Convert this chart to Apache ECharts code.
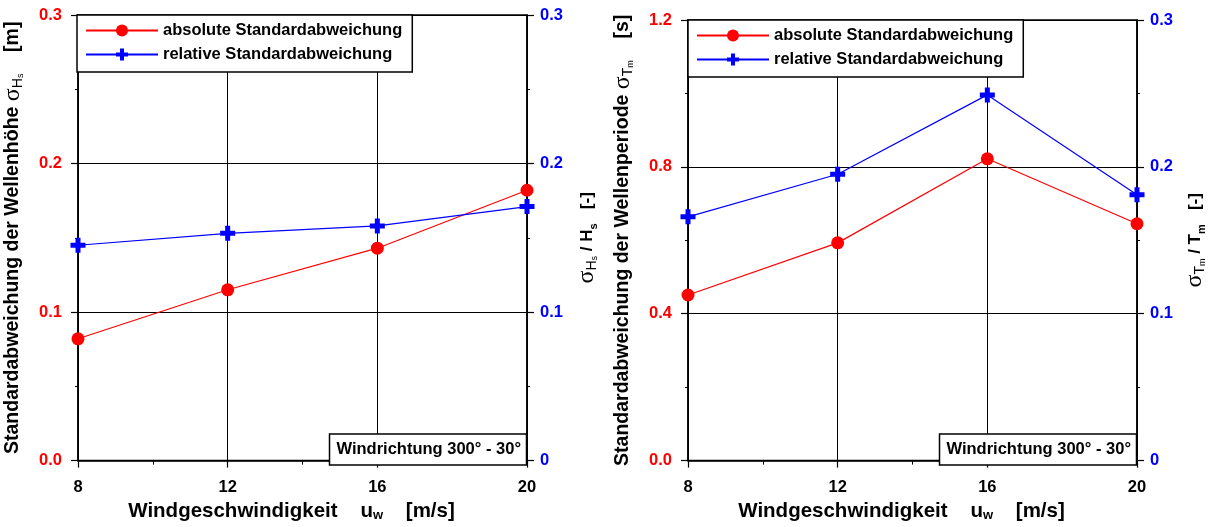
<!DOCTYPE html>
<html>
<head>
<meta charset="utf-8">
<script src="https://cdn.jsdelivr.net/npm/echarts@6/dist/echarts.min.js"></script>
<style>
html,body{margin:0;padding:0;background:#fff;}
#c{width:1208px;height:527px;}
</style>
</head>
<body>
<div id="c"></div>
<script>
// ---- data ----
const windSpeed = [8, 12, 16, 20];
const hsAbsolute = [0.082, 0.115, 0.143, 0.182];
const hsRelative = [0.145, 0.153, 0.158, 0.171];
const tmAbsolute = [0.451, 0.593, 0.822, 0.645];
const tmRelative = [0.166, 0.195, 0.249, 0.181];
const seriesNames = ['absolute Standardabweichung', 'relative Standardabweichung'];
const boxText = 'Windrichtung 300° - 30°';
const xTitle = 'Windgeschwindigkeit';

const FONT = '"Liberation Sans", Arial, sans-serif';
const RED = '#ff0000', BLUE = '#0000ff';
const pairs = (xs, ys) => xs.map((x, i) => [x, ys[i]]);
const PLUS = 'path://M3,0H6V3H9V6H6V9H3V6H0V3H3Z';

const chart = echarts.init(document.getElementById('c'), null, {renderer: 'canvas'});

const nameRich = {
  t: {fontSize: 19.5, fontWeight: 'bold', fontFamily: FONT, color: '#000', lineHeight: 24},
  g: {fontSize: 24, fontFamily: '"Liberation Serif", serif', color: '#000', lineHeight: 24},
  s: {fontSize: 14, fontWeight: 'normal', fontFamily: FONT, color: '#000', verticalAlign: 'bottom', lineHeight: 14},
  ss: {fontSize: 9, fontFamily: FONT, color: '#000', verticalAlign: 'bottom', lineHeight: 10},
  r: {fontSize: 17, fontWeight: 'bold', fontFamily: FONT, color: '#000', lineHeight: 22},
  rs: {fontSize: 11, fontWeight: 'bold', fontFamily: FONT, color: '#000', verticalAlign: 'bottom', lineHeight: 12}
};
const xRich = {
  t: {fontSize: 20.5, fontWeight: 'bold', fontFamily: FONT, color: '#000', lineHeight: 22},
  s: {fontSize: 13, fontWeight: 'bold', fontFamily: FONT, color: '#000', verticalAlign: 'bottom', lineHeight: 12}
};

function xAxis(gi) {
  return {
    type: 'value', gridIndex: gi, min: 8, max: 20, interval: 4,
    axisLine: {show: true, lineStyle: {color: '#000', width: 1.5}},
    axisTick: {show: true, inside: false, length: 7, lineStyle: {color: '#000', width: 1.2}},
    minorTick: {show: true, splitNumber: 2, length: 4, lineStyle: {color: '#000', width: 1}},
    axisLabel: {color: '#000', fontSize: 16.5, fontWeight: 'bold', fontFamily: FONT, margin: 18},
    splitLine: {show: true, lineStyle: {color: '#000', width: 1}},
    name: '{t|' + xTitle + '    u}{s|w}{t|    [m/s]}',
    nameLocation: 'middle', nameGap: 38,
    nameTextStyle: {rich: xRich, padding: [0, 22, 0, 0]}
  };
}

function yAxis(gi, pos, max, interval, color, fmt, name, gap, split) {
  return {
    type: 'value', gridIndex: gi, position: pos, min: 0, max: max, interval: interval,
    axisLine: {show: true, onZero: false, lineStyle: {color: '#000', width: 1.5}},
    axisTick: {show: true, inside: false, length: 7, lineStyle: {color: '#000', width: 1.2}},
    minorTick: {show: true, splitNumber: 2, length: 3, lineStyle: {color: '#000', width: 1}},
    axisLabel: {color: color, fontSize: 16.5, fontWeight: 'bold', fontFamily: FONT, margin: pos === 'left' ? 16 : 13, formatter: fmt},
    splitLine: {show: split, lineStyle: {color: '#000', width: 1}},
    name: name, nameLocation: 'middle', nameRotate: 90, nameGap: gap,
    nameTextStyle: {rich: nameRich}
  };
}

const f1 = v => v.toFixed(1);
const fR = v => v === 0 ? '0' : v.toFixed(1);

function legend(left, top) {
  return {
    data: seriesNames, left: left, top: top, orient: 'vertical',
    itemWidth: 72, itemHeight: 15, itemGap: 7,
    padding: [7, 10, 9, 8],
    borderColor: '#000', borderWidth: 1.5, backgroundColor: '#fff',
    textStyle: {fontSize: 16.5, fontWeight: 'bold', fontFamily: FONT, color: '#000'},
    selectedMode: false, z: 10
  };
}

function box(right, bottom) {
  return {
    text: boxText, right: right, bottom: bottom,
    padding: [7, 6, 7, 7], borderColor: '#000', borderWidth: 1.5, backgroundColor: '#fff',
    textStyle: {fontSize: 16.5, fontWeight: 'bold', fontFamily: FONT, color: '#000'}, z: 10
  };
}

function lineSeries(name, xi, yi, data, color, symbol, size) {
  return {
    name: name, type: 'line', xAxisIndex: xi, yAxisIndex: yi, data: data,
    symbol: symbol, symbolSize: size, showSymbol: true,
    lineStyle: {color: color, width: 1.2}, itemStyle: {color: color}, z: 5
  };
}

chart.setOption({
  animation: false,
  backgroundColor: '#fff',
  title: [box(681, 62), box(71, 62)],
  legend: [legend(77, 15), legend(688, 20)],
  grid: [
    {left: 77, right: 681, top: 15, bottom: 62, show: true, borderColor: '#000', borderWidth: 1.5},
    {left: 688, right: 71, top: 20, bottom: 62, show: true, borderColor: '#000', borderWidth: 1.5}
  ],
  xAxis: [xAxis(0), xAxis(1)],
  yAxis: [
    yAxis(0, 'left', 0.3, 0.1, RED, f1, '{t|Standardabweichung der Wellenhöhe }{g|σ}{s|H}{ss|s}{t|    [m]}', 53, true),
    yAxis(0, 'right', 0.3, 0.1, BLUE, fR, '{g|σ}{s|H}{ss|s}{r| / H}{rs|s}{r|   [-]}', 48, false),
    yAxis(1, 'left', 1.2, 0.4, RED, f1, '{t|Standardabweichung der Wellenperiode }{g|σ}{s|T}{ss|m}{t|    [s]}', 53, true),
    yAxis(1, 'right', 0.3, 0.1, BLUE, fR, '{g|σ}{s|T}{ss|m}{r| / T}{rs|m}{r|   [-]}', 46, false)
  ],
  series: [
    lineSeries(seriesNames[0], 0, 0, pairs(windSpeed, hsAbsolute), RED, 'circle', 13),
    lineSeries(seriesNames[1], 0, 1, pairs(windSpeed, hsRelative), BLUE, PLUS, 15),
    lineSeries(seriesNames[0], 1, 2, pairs(windSpeed, tmAbsolute), RED, 'circle', 13),
    lineSeries(seriesNames[1], 1, 3, pairs(windSpeed, tmRelative), BLUE, PLUS, 15)
  ]
});
</script>
</body>
</html>
